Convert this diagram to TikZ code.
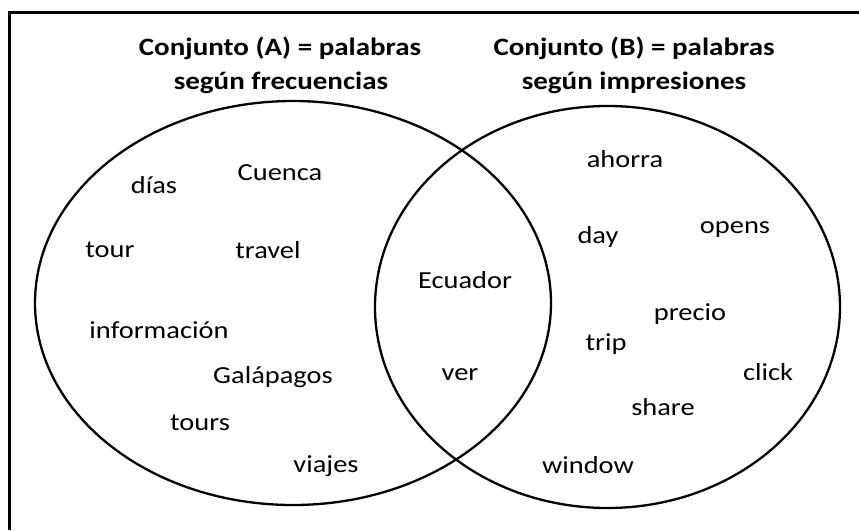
\documentclass[tikz,border=0pt]{standalone}
\usepackage{fontspec}
\usepackage{graphicx}
\setmainfont{Carlito}
\newcommand{\ancho}[1]{\scalebox{1.16}[1]{#1}}
\tikzset{palabra/.style={anchor=base,inner sep=0pt,font=\fontsize{24.5}{28}\selectfont},
  titulo/.style={anchor=base,inner sep=0pt,font=\bfseries\fontsize{25}{30}\selectfont}}

\begin{document}
\begin{tikzpicture}[x=1pt,y=-1pt]
      \useasboundingbox (0,0) rectangle (859,530);
      \draw[line width=3pt] (9,530) -- (9,12) -- (859,12);
      \draw[line width=2.3pt] (293,303) ellipse [x radius=258, y radius=202];
      \draw[line width=2.3pt] (607.5,307) ellipse [x radius=232.5, y radius=201];
      \node[titulo] (tA1) at (280,55) {\ancho{Conjunto (A) = palabras}};
      \node[titulo] (tA2) at (281,89) {\ancho{según frecuencias}};
      \node[titulo] (tB1) at (634,55) {\ancho{Conjunto (B) = palabras}};
      \node[titulo] (tB2) at (634,89) {\ancho{según impresiones}};
      % conjunto A
      \node[palabra] (dias) at (154,193) {\ancho{días}};
      \node[palabra] (cuenca) at (280,180) {\ancho{Cuenca}};
      \node[palabra] (tour) at (110,257) {\ancho{tour}};
      \node[palabra] (travel) at (268,258) {\ancho{travel}};
      \node[palabra] (informacion) at (159,338) {\ancho{información}};
      \node[palabra] (galapagos) at (273,383) {\ancho{Galápagos}};
      \node[palabra] (tours) at (200,430) {\ancho{tours}};
      \node[palabra] (viajes) at (326,472) {\ancho{viajes}};
      % interseccion
      \node[palabra] (ecuador) at (465,288) {\ancho{Ecuador}};
      \node[palabra] (ver) at (460,380) {\ancho{ver}};
      % conjunto B
      \node[palabra] (ahorra) at (625,167) {\ancho{ahorra}};
      \node[palabra] (day) at (598,243) {\ancho{day}};
      \node[palabra] (opens) at (735,233) {\ancho{opens}};
      \node[palabra] (precio) at (690,320) {\ancho{precio}};
      \node[palabra] (trip) at (606,350) {\ancho{trip}};
      \node[palabra] (click) at (768,380) {\ancho{click}};
      \node[palabra] (share) at (663,415) {\ancho{share}};
      \node[palabra] (window) at (588,473) {\ancho{window}};
    \end{tikzpicture}
\end{document}
